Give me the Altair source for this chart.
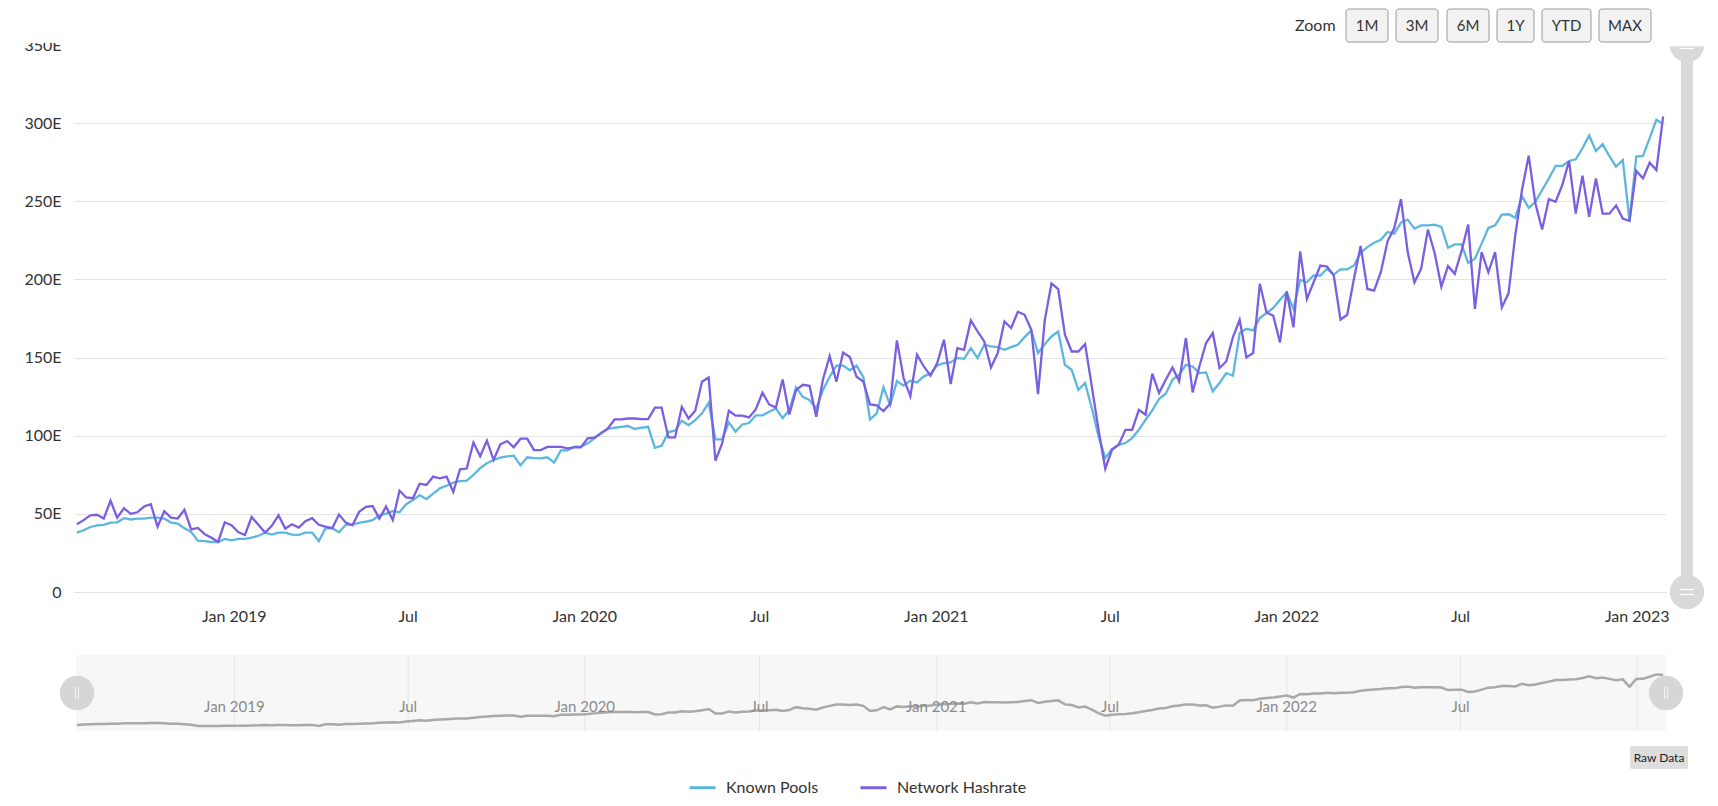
import altair as alt
import pandas as pd

# ---------------- data (weekly) ----------------
START_DATE = "2018-07-21"

KNOWN_POOLS = [
    38, 39.5, 41.6, 42.7, 43, 44.4, 44.6, 47.2, 46.4, 47,
    47, 47.6, 47.6, 47, 44.4, 43.8, 40.8, 38.4, 32.8, 32.6,
    32, 32, 34, 33, 34, 34, 34.8, 36, 38, 36.7,
    38, 38, 36.7, 36.5, 38, 38, 32.6, 40.8, 40.8, 38.2,
    43, 43.3, 44.2, 45, 46, 49, 50.2, 51.7, 51, 56.2,
    58.8, 62, 59.4, 63, 66.3, 68, 70, 71, 71.2, 74.9,
    79.2, 82.4,
    84.5, 86, 86.8, 87.2, 81, 86.2, 85.7, 85.5, 86.2, 82.8,
    90.6, 90.6, 93, 93, 95.1, 98.3, 101.9, 104.3, 105.1, 105.7,
    106.2, 104.3, 105.1, 105.7, 92.3, 93.6, 102.3, 103.2, 109.6, 106.8,
    110, 114.3, 121, 97.7, 97.7, 108.5, 102.6, 107.2, 108.1, 113,
    113, 115.3, 117.4, 111.3, 116.4, 130.9, 124.9, 122.8, 117.4, 129.2,
    137.7, 144.9, 144.9, 141.9, 144.9, 137.7, 110.4, 114.3, 130.9, 119.4,
    134.9,
    132, 135.2, 134.1, 138, 139.7, 145, 146.5, 146.9, 149.7, 149.2,
    156, 149.7, 158.2, 157.1, 156.7, 155, 156.7, 158.2, 163.1, 167.4,
    152.9, 158.6, 163.5, 166.7, 145.4, 142.2, 129.4, 133.7, 117.7, 99.6,
    85.7, 91.5, 94.2, 95.3, 98.5, 103.8, 110.2, 116.2, 123.5, 126.9,
    135.8, 139, 145.4, 144.3, 140.1, 140.5, 128.4, 133.7, 140.1, 138.4,
    165.7, 168.4, 167.4, 175.3, 178.5, 181.7, 187, 191.7,
    181.1, 199.7, 198.2, 202.5, 202.5, 206.8, 203.1, 206.4, 206.4, 208.9,
    217.1, 220.7, 223.5, 225.4, 230.4, 229.3, 236.4, 238.3, 232.5, 234.6,
    234.6, 235.1, 233.6, 220.3, 222.4, 222.4, 210.6, 213.2, 222.9, 232.9,
    234.6, 241.5, 241.7, 239.4, 253.3, 245.8, 249.7, 257.2, 264.6, 272.6,
    272.6, 275.8, 276.9, 283.9, 292.1, 282.2, 286.5, 279, 272.2, 276.4,
    237.4, 278.6, 279, 290.4, 302.2, 299.4,
]

NETWORK_HASHRATE = [
    43.3, 46, 49, 49.4, 47, 58.4, 47.6, 53.6, 50, 51,
    54.7, 56.2, 41.8, 51.7, 47.6, 47, 52.6, 40, 41, 37,
    34.8, 32, 44.6, 42.7, 38.4, 36.5, 48, 43, 38, 42.3,
    49, 40.6, 43.3, 41.2, 45.3, 47.2, 43, 41.8, 40.8, 49.6,
    44.4, 42.7, 51.3, 54.5, 55, 47, 54.7, 46, 64.8, 60.5,
    60, 69.3, 68.5, 73.8, 72.7, 73.8, 64, 78.5, 79, 95.7,
    86.9, 96.8,
    84.5, 94.5, 96.6, 92.6, 98.1, 98.1, 90.8, 90.8, 92.8, 92.8,
    92.8, 91.9, 92.6, 92.6, 98.3, 98.7, 101.5, 104.7, 110.4, 110.4,
    111, 111, 110.6, 110.6, 118, 118, 98.9, 98.9, 118.5, 111,
    116, 134.5, 137.2, 84, 95.1, 116, 112.8, 112.8, 111.7, 116.8,
    127.5, 120, 118, 136, 113.6, 129.2, 132.6, 131.9, 112.1, 136,
    150.9, 134.5, 153.2, 150.4, 137.7, 134.7, 120, 119.4, 115.7, 120.6,
    161,
    136.9, 125.2, 151.8, 144.3, 138.4, 146.5, 161.4, 133, 156, 155,
    173.8, 166.7, 160.3, 143.7, 152.9, 173.1, 168.9, 179.3, 177.4, 167.8,
    126.6, 173.8, 197.4, 193.8, 164.6, 153.9, 153.9, 158.6, 131.6, 103.8,
    78.9, 91, 94.2, 103.8, 103.8, 116.6, 113.4, 139.7, 127.3, 135.8,
    143.7, 134.8, 162.5, 127.7, 144.3, 159.3, 165.7, 143.3, 147.5, 163.1,
    174.2, 150.1, 152.9, 197.2, 178.9, 176.7, 159.7, 192.3,
    169.3, 217.9, 187.5, 198.2, 208.9, 208.3, 202.5, 174.2, 177.4, 200.4,
    221.4, 193.9, 192.9, 204.6, 224.4, 232.9, 251.4, 217.5, 198.2, 206.8,
    231.9, 217.1, 195.4, 208.5, 203.6, 218.1, 235.1, 181.1, 217.5, 204.6,
    217.5, 182.1, 191.1, 228.2, 257.2, 279.2, 248.6, 231.9, 251.4, 249.7,
    260.4, 275.8, 242.1, 266.4, 240, 264.6, 242.1, 242.1, 247.3, 238.9,
    237.4, 269.6, 264.6, 274.7, 270, 304.3,
]

SERIES = ["Known Pools", "Network Hashrate"]
COLORS = ["#5db6dd", "#7b5ee2"]

TICK_DATES = ["2019-01-01", "2019-07-01", "2020-01-01", "2020-07-01", "2021-01-01",
              "2021-07-01", "2022-01-01", "2022-07-01", "2023-01-01"]
TICK_LABELS = ["Jan 2019", "Jul", "Jan 2020", "Jul", "Jan 2021",
               "Jul", "Jan 2022", "Jul", "Jan 2023"]
Y_TICKS = [0, 50, 100, 150, 200, 250, 300, 350]
ZOOM_BUTTONS = ["1M", "3M", "6M", "1Y", "YTD", "MAX"]

# ---------------- tables ----------------
N = len(KNOWN_POOLS)
DATES = pd.date_range(START_DATE, periods=N, freq="7D").strftime("%Y-%m-%d").tolist()
long_df = pd.DataFrame({
    "date": DATES + DATES,
    "value": KNOWN_POOLS + NETWORK_HASHRATE,
    "series": [SERIES[0]] * N + [SERIES[1]] * N,
})
nav_df = pd.DataFrame({"date": DATES, "value": KNOWN_POOLS})
ticks_df = pd.DataFrame({"date": TICK_DATES, "label": TICK_LABELS})
nav_ticks_df = ticks_df.iloc[:-1]
dummy = pd.DataFrame({"k": [0]})


def ms(d):
    return int(pd.Timestamp(d, tz="UTC").value // 10**6)


W, H = 1592, 547
FONT = "Lato"
xscale = alt.Scale(type="utc", domain=[ms("2018-07-18"), ms("2023-01-31")])

x_axis = alt.Axis(
    values=[ms(d) for d in TICK_DATES], labels=False,
    title=None, grid=True, gridColor="#dcdcdc", ticks=False,
    domainColor="#cccccc", domainWidth=1.5,
)
y_axis = alt.Axis(
    values=Y_TICKS,
    labelExpr="datum.value == 0 ? '0' : datum.value + 'E'",
    title=None, grid=True, gridColor="#e3e3e3", ticks=False, domain=False,
    labelFontSize=16, labelColor="#333333", labelPadding=13, labelFont=FONT,
)

lines = alt.Chart(long_df).mark_line(strokeWidth=2.3).encode(
    x=alt.X("date:T", scale=xscale, axis=x_axis),
    y=alt.Y("value:Q", scale=alt.Scale(domain=[0, 350], nice=False), axis=y_axis),
    color=alt.Color(
        "series:N",
        scale=alt.Scale(domain=SERIES, range=COLORS),
        legend=alt.Legend(
            title=None, orient="none", legendX=614, legendY=728, direction="horizontal",
            symbolType="stroke", symbolSize=676, symbolStrokeWidth=3,
            labelFontSize=16, labelColor="#333333", labelFont=FONT,
            columnPadding=35, labelOffset=9,
        ),
    ),
)

# x-axis tick labels of the main plot
x_labels = alt.Chart(ticks_df).mark_text(fontSize=16, color="#333333", font=FONT, baseline="middle").encode(
    x=alt.X("date:T", scale=xscale, axis=None), y=alt.value(572), text="label:N")

# ---------------- navigator ----------------
nav_bg = alt.Chart(dummy).mark_rect(color="#f7f7f7").encode(
    x=alt.value(2), x2=alt.value(1592), y=alt.value(610), y2=alt.value(686))
nav_grid = alt.Chart(ticks_df).mark_rule(color="#e6e6e6", strokeWidth=1).encode(
    x=alt.X("date:T", scale=xscale, axis=None), y=alt.value(610), y2=alt.value(686))
nav_line = alt.Chart(nav_df).mark_line(color="#a9a9a9", strokeWidth=2.5).encode(
    x=alt.X("date:T", scale=xscale, axis=None),
    y=alt.Y("value:Q", scale=alt.Scale(domain=[6, 404], range=[686, 610], nice=False, zero=False), axis=None),
)
nav_labels = alt.Chart(nav_ticks_df).mark_text(fontSize=15, color="#8a8a8a", font=FONT, baseline="middle").encode(
    x=alt.X("date:T", scale=xscale, axis=None), y=alt.value(662), text="label:N")

deco = []
for cx in [3, 1592]:
    deco.append(alt.Chart(dummy).mark_point(shape="circle", filled=True, size=1190, color="#d4d4d4", opacity=0.95)
                .encode(x=alt.value(cx), y=alt.value(648)))
    for dx in [-1.5, 1.5]:
        deco.append(alt.Chart(dummy).mark_rule(color="#f4f4f4", strokeWidth=1)
                    .encode(x=alt.value(cx + dx), y=alt.value(642), y2=alt.value(654)))

# ---------------- vertical scrollbar ----------------
deco.append(alt.Chart(dummy).mark_rect(color="#d9d9d9").encode(
    x=alt.value(1607), x2=alt.value(1619), y=alt.value(2), y2=alt.value(545)))
for cy in [0, 547]:
    deco.append(alt.Chart(dummy).mark_point(shape="circle", filled=True, size=1190, color="#d9d9d9", opacity=1)
                .encode(x=alt.value(1613), y=alt.value(cy)))
for ly in [3.5, 544.5, 549.5]:
    deco.append(alt.Chart(dummy).mark_rule(color="#ffffff", strokeWidth=1.2)
                .encode(x=alt.value(1606), x2=alt.value(1620), y=alt.value(ly)))

# white covers (clip at top of plot, as in the reference)
deco.append(alt.Chart(dummy).mark_rect(color="#ffffff").encode(
    x=alt.value(-70), x2=alt.value(-1), y=alt.value(-45), y2=alt.value(-2)))
deco.append(alt.Chart(dummy).mark_rect(color="#ffffff").encode(
    x=alt.value(0), x2=alt.value(1640), y=alt.value(-45), y2=alt.value(1.2)))

# ---------------- zoom buttons ----------------
BTN_X = [(1272, 1314), (1322, 1364), (1373, 1415), (1423, 1460), (1468, 1517), (1525, 1577)]
deco.append(alt.Chart(dummy).mark_text(align="left", baseline="middle", fontSize=16, color="#333333", font=FONT)
            .encode(x=alt.value(1221), y=alt.value(-19.5), text=alt.value("Zoom")))
for label, (a, b) in zip(ZOOM_BUTTONS, BTN_X):
    deco.append(alt.Chart(dummy).mark_rect(fill="#f2f2f2", stroke="#9a9a9a", strokeWidth=1, cornerRadius=3)
                .encode(x=alt.value(a), x2=alt.value(b), y=alt.value(-36), y2=alt.value(-3)))
    deco.append(alt.Chart(dummy).mark_text(baseline="middle", fontSize=15, color="#333333", font=FONT)
                .encode(x=alt.value((a + b) / 2), y=alt.value(-19.5), text=alt.value(label)))

# ---------------- raw data button ----------------
deco.append(alt.Chart(dummy).mark_rect(fill="#dedede", cornerRadius=2)
            .encode(x=alt.value(1556), x2=alt.value(1614), y=alt.value(701), y2=alt.value(724)))
deco.append(alt.Chart(dummy).mark_text(baseline="middle", fontSize=12, color="#222222", font=FONT)
            .encode(x=alt.value(1585), y=alt.value(712.5), text=alt.value("Raw Data")))

chart = alt.layer(lines, x_labels, nav_bg, nav_grid, nav_line, nav_labels, *deco).resolve_scale(
    y="independent"
).properties(
    width=W, height=H,
    padding={"left": 66, "top": 37, "right": 44, "bottom": 206},
    autosize=alt.AutoSizeParams(type="none"),
    background="#ffffff",
).configure(font=FONT).configure_view(stroke=None)

chart.save("out.html", embed_options={"renderer": "svg", "actions": False})
